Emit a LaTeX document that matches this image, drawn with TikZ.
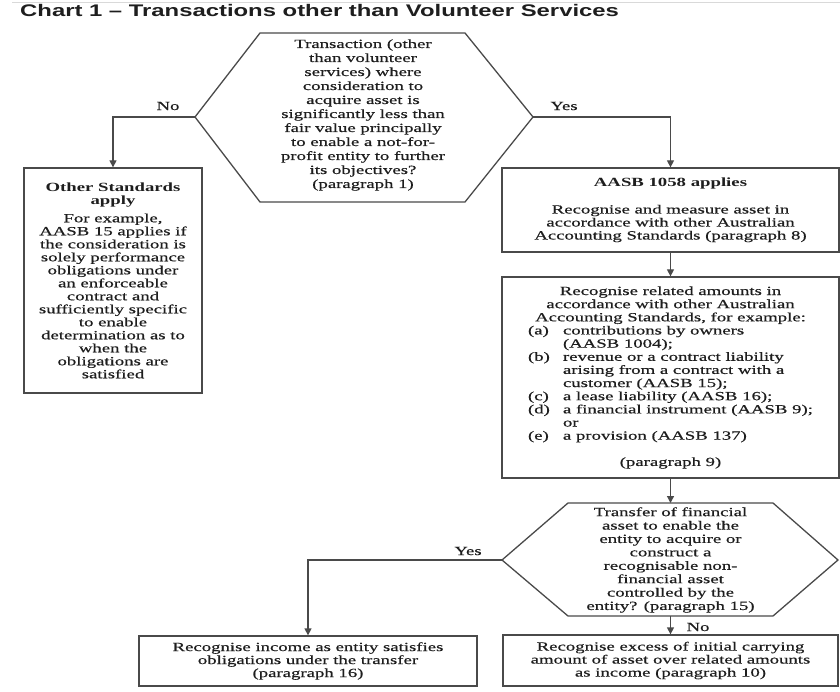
\documentclass[tikz,border=0pt]{standalone}
\usepackage{fontspec}
\setmainfont{Liberation Serif}[FakeStretch=1.5, UprightFeatures={FakeBold=0.5}]
\newfontfamily\titlefont{Liberation Sans}[FakeStretch=1.42]
\usetikzlibrary{arrows.meta}
\definecolor{ln}{HTML}{4A4A4A}
\definecolor{tx}{HTML}{1E1E1E}
\newcommand{\lstline}[2]{\makebox[285pt][l]{\makebox[35pt][l]{#1}#2}}
\begin{document}
\begin{tikzpicture}[x=1pt,y=-1pt,
  box/.style={draw=ln, line width=1.3pt, rectangle, inner sep=0pt, align=center, text=tx,
    font=\fontsize{12.5}{13}\selectfont},
  txt/.style={inner sep=0pt, align=center, text=tx},
  hexline/.style={draw=ln, line width=1.3pt, line join=miter},
  conn/.style={draw=ln, line width=1.3pt, -{Triangle[width=7pt,length=7pt]}},
  lab/.style={inner sep=0pt, text=tx, font=\fontsize{12.5}{13}\selectfont}]

\useasboundingbox (0,0) rectangle (840,692);
\fill[white] (0,0) rectangle (840,692);
\draw[gray!30, line width=1pt] (12,3) -- (840,3);

% title
\node[anchor=base west, inner sep=0pt, text=tx, font=\titlefont\bfseries\fontsize{16.8}{18}\selectfont] (title) at (20,17)
  {Chart 1 – Transactions other than Volunteer Services};

% first decision
\coordinate (h1w) at (195,117);
\coordinate (h1e) at (533,117);
\draw[hexline] (h1w) -- (260,33) -- (465,33) -- (h1e) -- (465,202) -- (260,202) -- cycle;
\node[txt, font=\fontsize{12.5}{14}\selectfont] (q1) at (363,115)
  {Transaction (other\\than volunteer\\services) where\\consideration to\\acquire asset is\\significantly less than\\fair value principally\\to enable a not-for-\\profit entity to further\\its objectives?\\(paragraph 1)};

% left box
\node[box, minimum width=178pt, minimum height=225pt] (other) at (113,280.5)
  {\textbf{Other Standards}\\\textbf{apply}\\[5pt]For example,\\AASB 15 applies if\\the consideration is\\solely performance\\obligations under\\an enforceable\\contract and\\sufficiently specific\\to enable\\determination as to\\when the\\obligations are\\satisfied};

% right boxes
\node[box, minimum width=337pt, minimum height=84pt] (b1) at (670.5,210)
  {\textbf{AASB 1058 applies}\\[14pt]Recognise and measure asset in\\accordance with other Australian\\Accounting Standards (paragraph 8)};

\node[box, minimum width=337pt, minimum height=201pt, font=\fontsize{12.5}{13.15}\selectfont] (b2) at (670.5,377.5)
  {Recognise related amounts in\\accordance with other Australian\\Accounting Standards, for example:\\
   \lstline{(a)}{contributions by owners}\\
   \lstline{}{(AASB 1004);}\\
   \lstline{(b)}{revenue or a contract liability}\\
   \lstline{}{arising from a contract with a}\\
   \lstline{}{customer (AASB 15);}\\
   \lstline{(c)}{a lease liability (AASB 16);}\\
   \lstline{(d)}{a financial instrument (AASB 9);}\\
   \lstline{}{or}\\
   \lstline{(e)}{a provision (AASB 137)}\\[13.15pt]
   (paragraph 9)};

% second decision
\coordinate (h2w) at (502,560);
\coordinate (h2e) at (838,560);
\coordinate (h2n) at (670.5,503);
\coordinate (h2s) at (670.5,616);
\draw[hexline] (h2w) -- (568,503) -- (773,503) -- (h2e) -- (773,616) -- (568,616) -- cycle;
\node[txt, font=\fontsize{12.5}{13.4}\selectfont] (q2) at (670.5,560)
  {Transfer of financial\\asset to enable the\\entity to acquire or\\construct a\\recognisable non-\\financial asset\\controlled by the\\entity? (paragraph 15)};

% bottom boxes
\node[box, minimum width=338pt, minimum height=50pt] (r1) at (308,661)
  {Recognise income as entity satisfies\\obligations under the transfer\\(paragraph 16)};
\node[box, minimum width=335pt, minimum height=51pt] (r2) at (670.5,660.5)
  {Recognise excess of initial carrying\\amount of asset over related amounts\\as income (paragraph 10)};

% connectors
\draw[conn] (h1w) -| (other.north);
\draw[conn] (h1e) -| (b1.north);
\draw[conn] (b1.south) -- (b2.north);
\draw[conn] (b2.south) -- (h2n);
\draw[conn] (h2w) -| (r1.north);
\draw[conn] (h2s) -- (r2.north);

% labels
\node[lab] (no1) at (168,106) {No};
\node[lab] (yes1) at (564,106) {Yes};
\node[lab] (yes2) at (468,551) {Yes};
\node[lab] (no2) at (698,627) {No};
\end{tikzpicture}
\end{document}
